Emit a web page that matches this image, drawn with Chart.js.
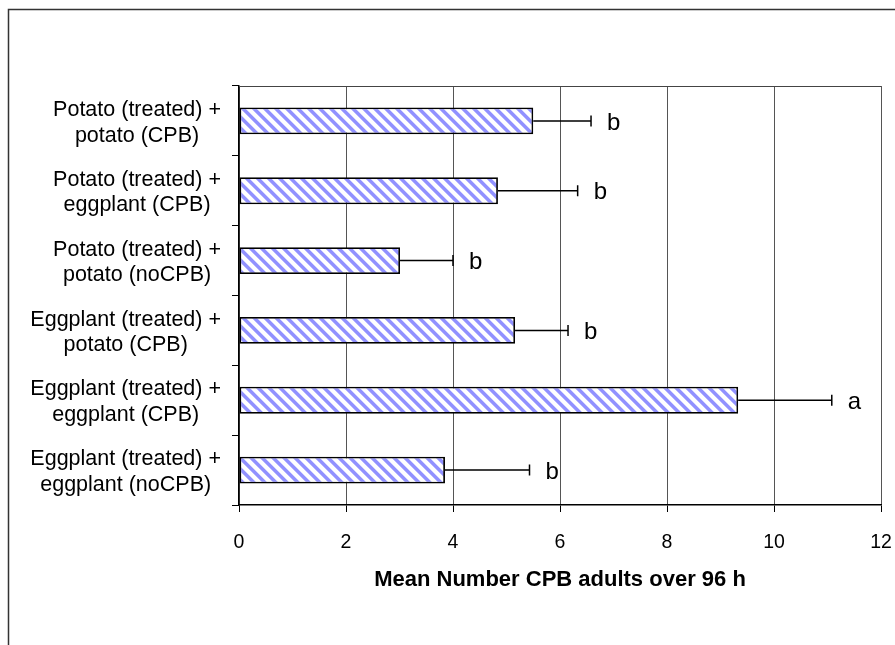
<!DOCTYPE html>
<html>
<head>
<meta charset="utf-8">
<script src="https://cdn.jsdelivr.net/npm/chart.js@4/dist/chart.umd.min.js"></script>
<style>
  html, body { margin: 0; padding: 0; background: #fff; }
  #wrap { position: relative; width: 895px; height: 645px; }
</style>
</head>
<body>
<div id="wrap"><canvas id="chart"></canvas></div>
<script>
// Host plant treatments (two-line labels)
const categories = [
  ["Potato (treated) +", "potato (CPB)"],
  ["Potato (treated) +", "eggplant (CPB)"],
  ["Potato (treated) +", "potato (noCPB)"],
  ["Eggplant (treated) +", "potato (CPB)"],
  ["Eggplant (treated) +", "eggplant (CPB)"],
  ["Eggplant (treated) +", "eggplant (noCPB)"]
];
// Mean number of CPB adults and standard error
const meanAdults = [5.50, 4.84, 3.01, 5.16, 9.33, 3.85];
const stdError   = [1.08, 1.49, 0.99, 0.99, 1.75, 1.58];
// Mean separation letters
const groupLetters = ["b", "b", "b", "b", "a", "b"];
// Axis range and step
const xMin = 0, xMax = 12, xStep = 2;
const xTitle = "Mean Number CPB adults over 96 h";

const FONT = '"Liberation Sans", Arial, sans-serif';

// Diagonal blue/white hatch used to fill the bars
function hatchPattern() {
  const p = 11, w = 4.8, ss = 4;
  const c = document.createElement('canvas');
  c.width = p; c.height = p;
  const g = c.getContext('2d');
  const img = g.createImageData(p, p);
  const blue = [145, 145, 255];
  for (let y = 0; y < p; y++) {
    for (let x = 0; x < p; x++) {
      let hit = 0;
      for (let sy = 0; sy < ss; sy++) {
        for (let sx = 0; sx < ss; sx++) {
          const fx = x + (sx + 0.5) / ss, fy = y + (sy + 0.5) / ss;
          const d = (((fx - fy) % p) + p) % p;
          if (d < w) hit++;
        }
      }
      const a = hit / (ss * ss);
      const k = (y * p + x) * 4;
      img.data[k]     = Math.round(255 + (blue[0] - 255) * a);
      img.data[k + 1] = Math.round(255 + (blue[1] - 255) * a);
      img.data[k + 2] = Math.round(255 + (blue[2] - 255) * a);
      img.data[k + 3] = 255;
    }
  }
  g.putImageData(img, 0, 0);
  return g.createPattern(c, 'repeat');
}

// Outer frame around the figure
const framePlugin = {
  id: 'frame',
  beforeDraw(chart) {
    const ctx = chart.ctx;
    ctx.save();
    ctx.fillStyle = '#fff';
    ctx.fillRect(0, 0, chart.width, chart.height);
    ctx.strokeStyle = '#333';
    ctx.lineWidth = 1.5;
    ctx.beginPath();
    ctx.moveTo(8.5, chart.height);
    ctx.lineTo(8.5, 9.5);
    ctx.lineTo(chart.width, 9.5);
    ctx.stroke();
    ctx.restore();
  }
};

// Plot-area box, category labels, error bars and letters
const annotatePlugin = {
  id: 'annotate',
  beforeDatasetsDraw(chart) {
    const { ctx, chartArea: a } = chart;
    ctx.save();
    ctx.strokeStyle = '#444';
    ctx.lineWidth = 1.2;
    ctx.beginPath();
    ctx.moveTo(a.left, a.top + 0.5);
    ctx.lineTo(a.right, a.top + 0.5);
    ctx.stroke();
    ctx.restore();
  },
  afterDatasetsDraw(chart) {
    const { ctx, chartArea: a } = chart;
    const xs = chart.scales.x, ys = chart.scales.y;
    const meta = chart.getDatasetMeta(0);
    ctx.save();
    // error bars
    ctx.strokeStyle = '#000';
    ctx.lineWidth = 1.5;
    meta.data.forEach((bar, i) => {
      const x0 = xs.getPixelForValue(meanAdults[i]);
      const x1 = xs.getPixelForValue(meanAdults[i] + stdError[i]);
      const y = bar.y;
      ctx.beginPath();
      ctx.moveTo(x0, y);
      ctx.lineTo(x1, y);
      ctx.moveTo(x1, y - 5.5);
      ctx.lineTo(x1, y + 5.5);
      ctx.stroke();
      ctx.fillStyle = '#000';
      ctx.font = '24px ' + FONT;
      ctx.textAlign = 'left';
      ctx.textBaseline = 'middle';
      ctx.fillText(groupLetters[i], x1 + 16, y + 2);
    });
    // category labels: block right-aligned, lines centred within block
    ctx.font = '21.5px ' + FONT;
    ctx.fillStyle = '#000';
    ctx.textAlign = 'center';
    ctx.textBaseline = 'middle';
    const lh = 25.5;
    categories.forEach((lines, i) => {
      const cy = ys.getPixelForValue(i);
      const bw = Math.max(...lines.map(t => ctx.measureText(t).width));
      const cx = a.left - 18 - bw / 2;
      lines.forEach((t, k) => {
        ctx.fillText(t, cx, cy + 2 + (k - (lines.length - 1) / 2) * lh);
      });
    });
    ctx.restore();
  }
};

new Chart(document.getElementById('chart'), {
  type: 'bar',
  data: {
    labels: categories,
    datasets: [{
      data: meanAdults,
      backgroundColor: hatchPattern(),
      borderColor: '#000',
      borderWidth: 1.8,
      borderSkipped: false,
      barPercentage: 0.385,
      categoryPercentage: 1.0
    }]
  },
  options: {
    indexAxis: 'y',
    responsive: true,
    maintainAspectRatio: false,
    animation: false,
    layout: { padding: { top: 86, right: 14, left: 0, bottom: 0 } },
    plugins: { legend: { display: false }, tooltip: { enabled: false } },
    scales: {
      x: {
        type: 'linear',
        min: xMin, max: xMax,
        afterFit(scale) {
          scale.height = 140;
          scale.paddingLeft = 0;
          scale.paddingRight = 0;
        },
        ticks: {
          stepSize: xStep,
          color: '#000',
          font: { family: FONT, size: 19.5 },
          padding: 19
        },
        grid: {
          color: '#555',
          lineWidth: 1,
          tickColor: '#000',
          tickLength: 7
        },
        border: { color: '#000', width: 1.5 },
        title: {
          display: true,
          text: xTitle,
          color: '#000',
          font: { family: FONT, size: 22, weight: 'bold' },
          padding: { top: 0, bottom: 52 }
        }
      },
      y: {
        type: 'category',
        offset: true,
        afterFit(scale) { scale.width = 239; },
        ticks: { display: false },
        grid: {
          offset: true,
          drawOnChartArea: false,
          drawTicks: true,
          tickLength: 7,
          color: '#000',
          tickColor: '#000'
        },
        border: { color: '#000', width: 1.5 }
      }
    }
  },
  plugins: [framePlugin, annotatePlugin]
});
</script>
</body>
</html>
